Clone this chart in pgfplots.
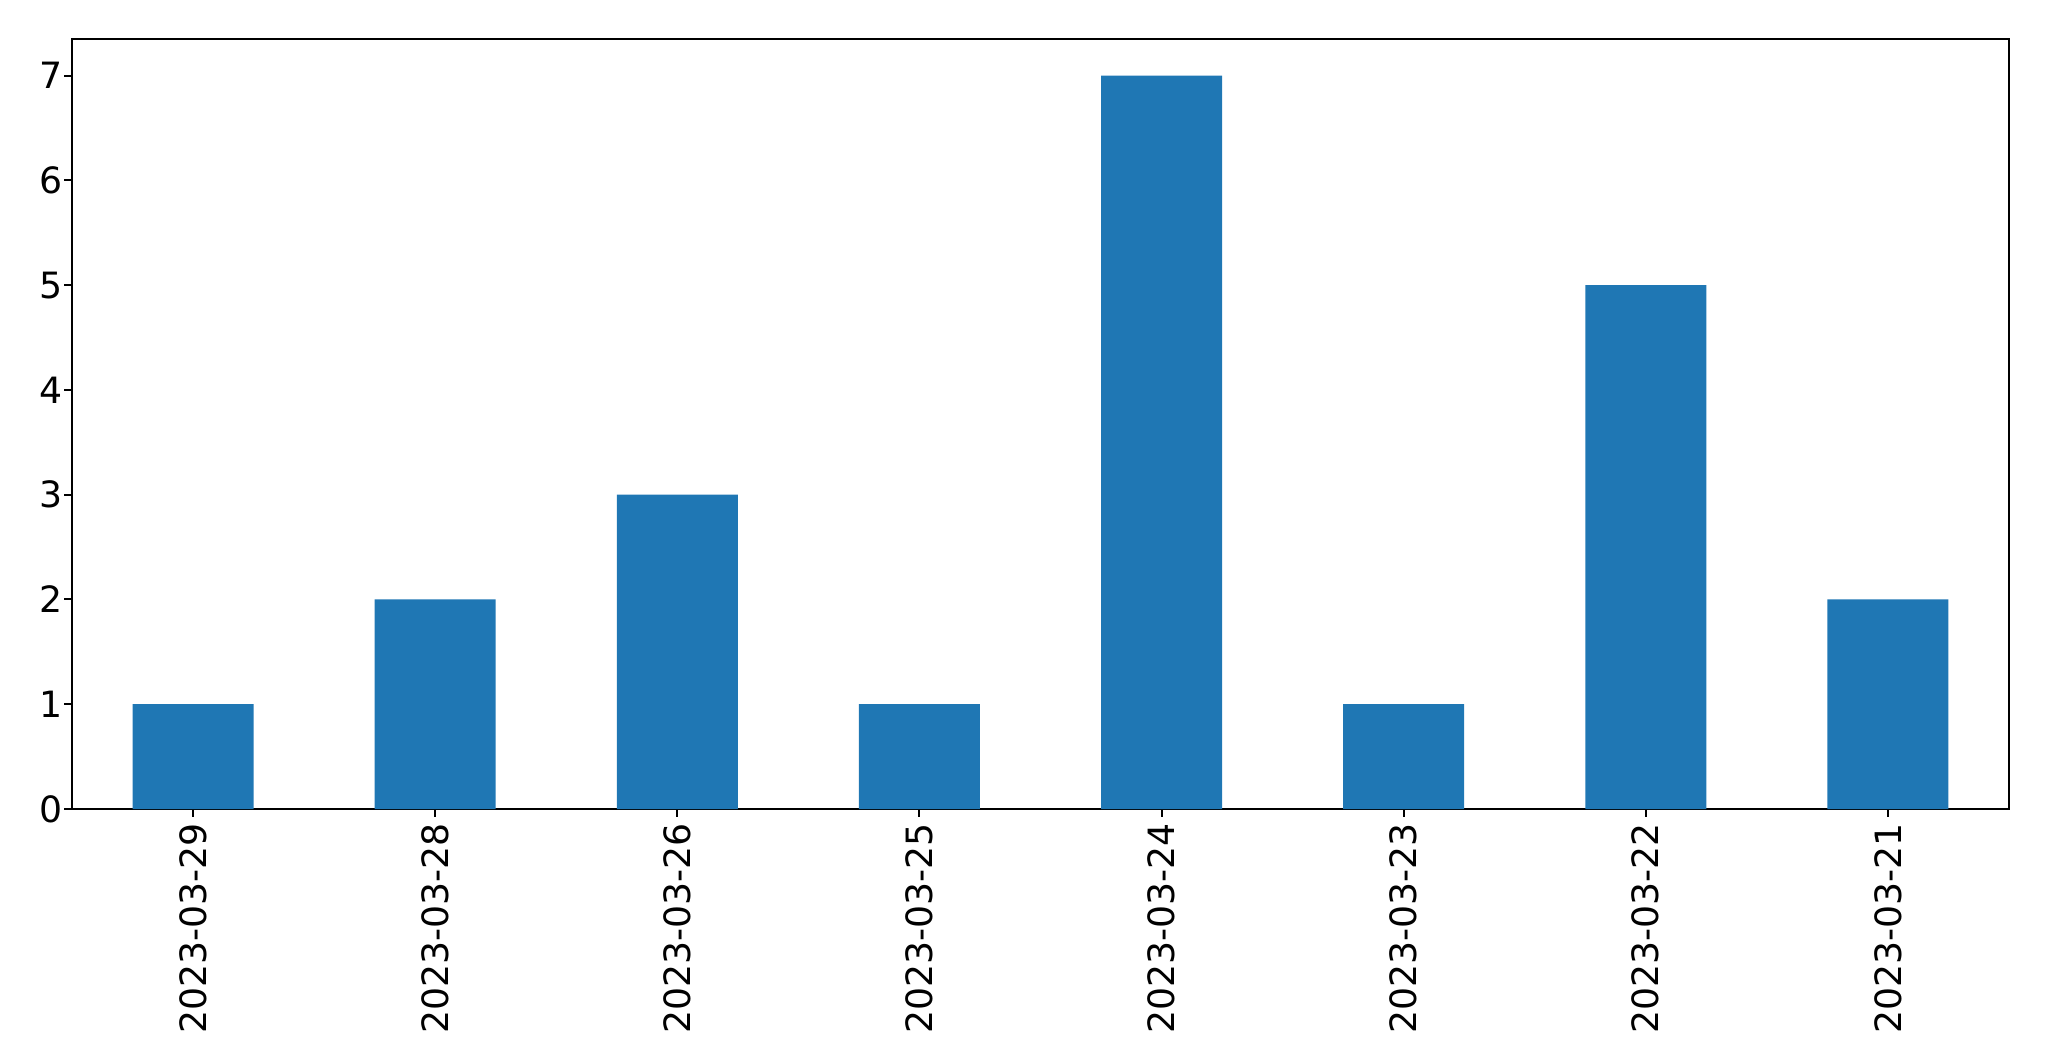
\documentclass[border=0pt]{standalone}
\usepackage{fontspec}
\setmainfont{DejaVu Sans}
\usepackage{pgfplots}
\pgfplotsset{compat=1.18}
\definecolor{mplblue}{HTML}{1F77B4}
\begin{document}
\begin{tikzpicture}
\useasboundingbox (-32.4pt,-113.4pt) rectangle (889.65pt,364.05pt);
\begin{axis}[
  at={(0,0)}, anchor=south west,
  scale only axis,
  width=871.65pt, height=346.5pt,
  xmin=-0.5, xmax=7.5, ymin=0, ymax=7.35,
  xtick={0,1,2,3,4,5,6,7},
  xticklabels={2023-03-29,2023-03-28,2023-03-26,2023-03-25,2023-03-24,2023-03-23,2023-03-22,2023-03-21},
  ytick={0,1,2,3,4,5,6,7},
  tick pos=left, tick align=outside,
  major tick length=3.47pt,
  every tick/.style={black, line width=0.9pt},
  axis line style={line width=0.9pt},
  /pgf/number format/assume math mode=true,
  tick label style={font=\fontsize{16.3}{19}\selectfont},
  xticklabel style={rotate=90, anchor=east, inner sep=2.6pt},
  yticklabel style={inner sep=0.6pt},
  ybar, bar width=0.5,
]
\addplot[fill=mplblue, draw=none] coordinates {
  (0,1) (1,2) (2,3) (3,1) (4,7) (5,1) (6,5) (7,2)
};
\end{axis}
\end{tikzpicture}
\end{document}
